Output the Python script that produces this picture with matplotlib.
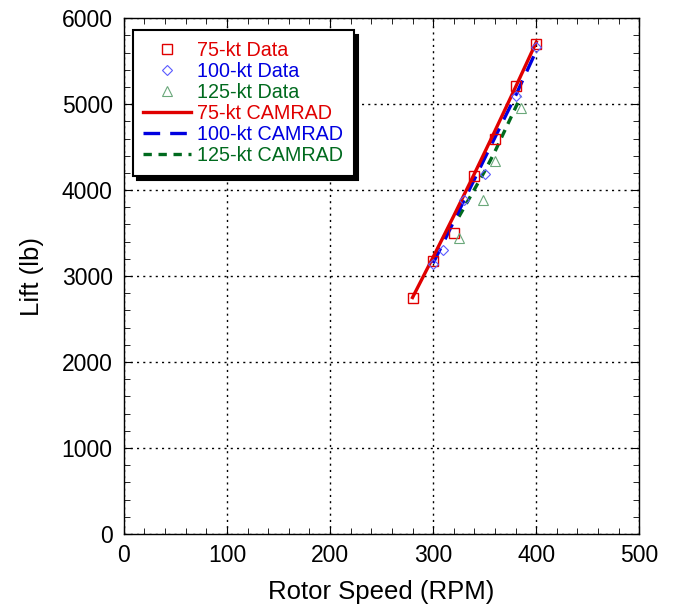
import matplotlib
matplotlib.use("Agg")
import matplotlib.pyplot as plt
from matplotlib.ticker import MultipleLocator

plt.rcParams['font.family'] = ['Liberation Sans', 'DejaVu Sans']

# Measured rotor lift versus rotor speed
rpm_75 = [280, 300, 320, 340, 360, 380, 400]
lift_75 = [2750, 3170, 3500, 4160, 4600, 5210, 5700]

rpm_100 = [300, 310, 330, 350, 380, 400]
lift_100 = [3140, 3300, 3880, 4190, 5090, 5660]

rpm_125 = [325, 348, 360, 385]
lift_125 = [3440, 3890, 4340, 4950]

# CAMRAD predictions
cam_rpm_75 = [280, 300, 320, 340, 360, 380, 400]
cam_lift_75 = [2750, 3220, 3700, 4190, 4690, 5200, 5720]

cam_rpm_100 = [300, 310, 330, 350, 380, 400]
cam_lift_100 = [3150, 3390, 3880, 4370, 5100, 5620]

cam_rpm_125 = [325, 350, 360, 385]
cam_lift_125 = [3690, 4220, 4450, 5090]

red = '#e00000'
blue = '#0000e0'
green = '#006a1e'

fig = plt.figure(figsize=(6.73, 6.06), dpi=100)
ax = fig.add_axes([0.184, 0.119, 0.766, 0.851])

ax.plot(cam_rpm_75, cam_lift_75, color=red, lw=2.4, label='75-kt CAMRAD', zorder=4)
ax.plot(cam_rpm_100, cam_lift_100, color=blue, lw=2.4, dashes=(5, 3), label='100-kt CAMRAD', zorder=3)
ax.plot(cam_rpm_125, cam_lift_125, color=green, lw=2.4, dashes=(2.5, 2), label='125-kt CAMRAD', zorder=2)

ax.plot(rpm_75, lift_75, 's', ms=6.5, mfc='none', mec=red, mew=1.0, label='75-kt Data', zorder=5)
ax.plot(rpm_100, lift_100, 'D', ms=5, mfc='none', mec='#5a5aff', mew=0.8, label='100-kt Data', zorder=5)
ax.plot(rpm_125, lift_125, '^', ms=7, mfc='none', mec='#6aa87a', mew=0.8, label='125-kt Data', zorder=5)

ax.set_xlim(0, 500)
ax.set_ylim(0, 6000)
ax.xaxis.set_major_locator(MultipleLocator(100))
ax.xaxis.set_minor_locator(MultipleLocator(20))
ax.yaxis.set_major_locator(MultipleLocator(1000))
ax.yaxis.set_minor_locator(MultipleLocator(200))
ax.tick_params(which='both', direction='in', top=True, right=True, labelsize=16.5)
ax.tick_params(which='major', length=6)
ax.tick_params(which='minor', length=4)
ax.tick_params(axis='x', pad=7)
ax.tick_params(axis='y', pad=8)
ax.grid(True, which='major', color='black', linestyle=(0, (1.5, 3)), lw=1.0)
for s in ax.spines.values():
    s.set_linewidth(1.0)

ax.set_xlabel('Rotor Speed (RPM)', fontsize=18.5, labelpad=10)
ax.set_ylabel('Lift (lb)', fontsize=18.5, labelpad=13)

handles, labels = ax.get_legend_handles_labels()
order = [3, 4, 5, 0, 1, 2]
handles = [handles[i] for i in order]
labels = [labels[i] for i in order]
leg = ax.legend(handles, labels, loc='upper left', bbox_to_anchor=(0.017, 0.977),
                borderaxespad=0, fontsize=14.2, frameon=True, fancybox=False,
                labelcolor=[red, blue, green, red, blue, green],
                handlelength=2.4, handletextpad=0.3, borderpad=0.55, labelspacing=0.1,
                shadow={'color': 'black', 'alpha': 1.0, 'ox': 3.5, 'oy': -3.5})
leg.get_frame().set_edgecolor('black')
leg.get_frame().set_linewidth(1.5)
leg.get_frame().set_alpha(1.0)

fig.savefig('out.png', dpi=100)
